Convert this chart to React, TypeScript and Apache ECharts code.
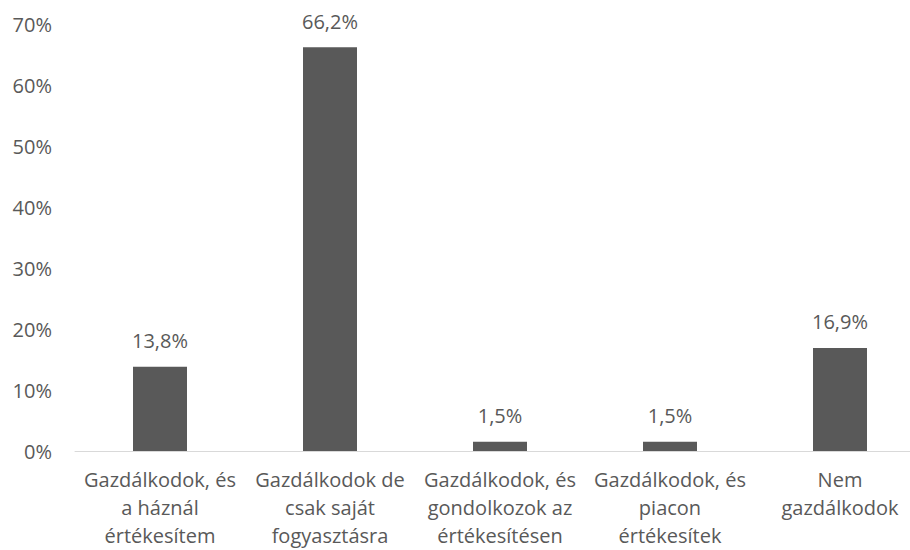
import React, { useEffect, useRef } from "react";
import * as echarts from "echarts";

const categories: string[] = [
  "Gazdálkodok, és\na háznál\nértékesítem",
  "Gazdálkodok de\ncsak saját\nfogyasztásra",
  "Gazdálkodok, és\ngondolkozok az\nértékesítésen",
  "Gazdálkodok, és\npiacon\nértékesítek",
  "Nem\ngazdálkodok",
];
const values: number[] = [13.8, 66.2, 1.5, 1.5, 16.9];
const yTicks: number[] = [0, 10, 20, 30, 40, 50, 60, 70];

const FONT = "'Open Sans', 'Noto Sans', sans-serif";
const TEXT = "#595959";

export default function App() {
  const ref = useRef<HTMLDivElement>(null);
  useEffect(() => {
    if (!ref.current) return;
    const chart = echarts.init(ref.current, undefined, { renderer: "svg" });
    chart.setOption({
      animation: false,
      backgroundColor: "#ffffff",
      textStyle: { fontFamily: FONT },
      grid: {
        left: 75,
        right: -15,
        top: 24,
        bottom: 99,
        containLabel: false,
        outerBoundsMode: "none",
      },
      xAxis: {
        type: "category",
        data: categories,
        axisLine: { show: true, lineStyle: { color: "#d9d9d9", width: 1 } },
        axisTick: { show: false },
        axisLabel: {
          interval: 0,
          margin: 14,
          color: TEXT,
          fontFamily: FONT,
          fontSize: 20,
          lineHeight: 28,
          align: "center",
        },
      },
      yAxis: {
        type: "value",
        min: yTicks[0],
        max: yTicks[yTicks.length - 1],
        interval: 10,
        splitLine: { show: false },
        axisLine: { show: false },
        axisTick: { show: false },
        axisLabel: {
          margin: 23,
          color: TEXT,
          fontFamily: FONT,
          fontSize: 20,
          formatter: (v: number) => `${v}%`,
        },
      },
      series: [
        {
          type: "bar",
          data: values,
          barWidth: 54,
          itemStyle: { color: "#595959" },
          label: {
            show: true,
            position: "top",
            distance: 16,
            color: TEXT,
            fontFamily: FONT,
            fontSize: 20,
            formatter: (p: any) => `${Number(p.value).toFixed(1).replace(".", ",")}%`,
          },
        },
      ],
    });
    return () => chart.dispose();
  }, []);
  return <div ref={ref} style={{ width: 910, height: 550, position: "absolute", left: 0, top: 0 }} />;
}
